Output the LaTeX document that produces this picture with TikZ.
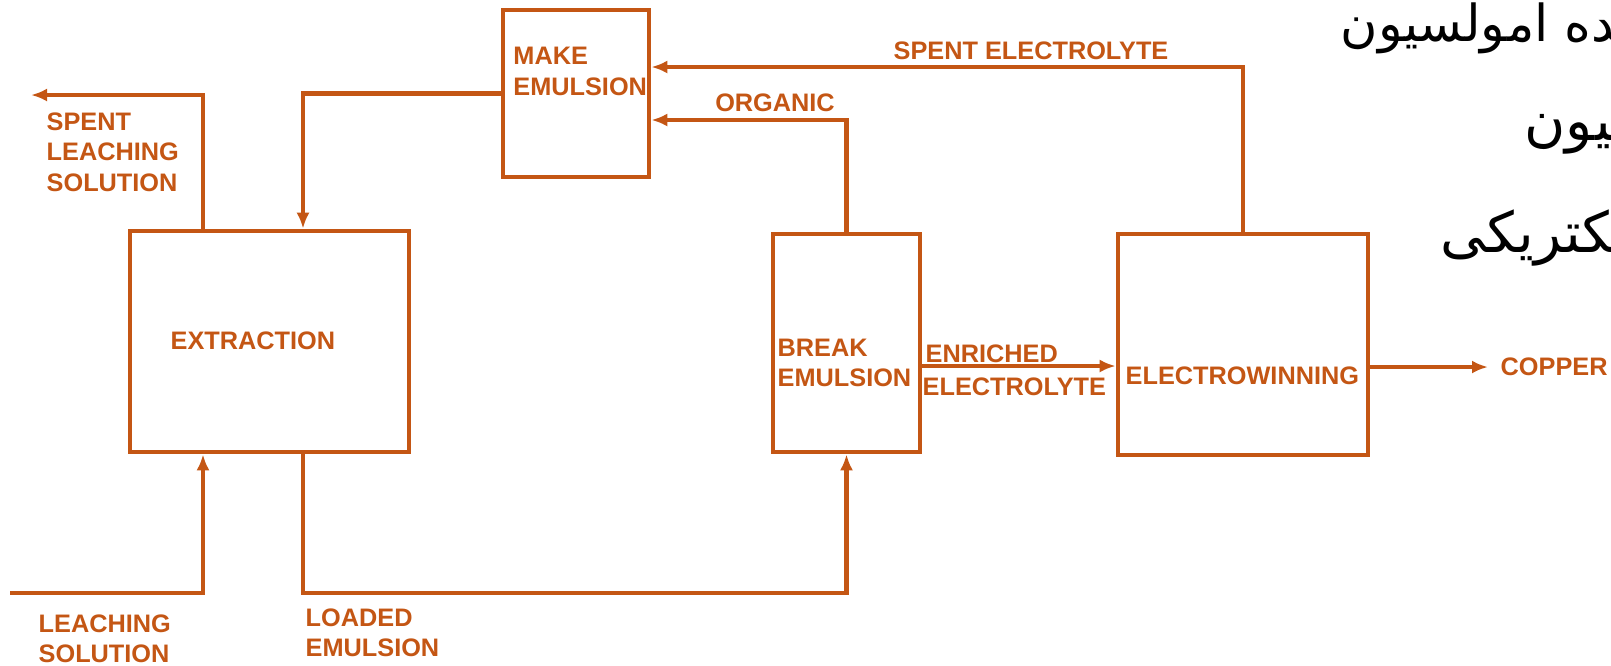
\documentclass[tikz,border=0pt]{standalone}
\usepackage{fontspec}
\setmainfont{Liberation Sans}
\newfontfamily\arabicfont[Script=Arabic]{DejaVu Sans}
\TeXXeTstate=1
\usepackage{xcolor}
\usetikzlibrary{arrows.meta,positioning}
\definecolor{rust}{RGB}{196,86,20}

\begin{document}
\begin{tikzpicture}[
    x=0.1mm, y=-0.1mm,
    block/.style={draw=rust, line width=1.3pt, inner sep=0pt},
    lbl/.style={text=rust, font=\bfseries\fontsize{7.2}{8.7}\selectfont, inner sep=0pt, align=left},
    pipe/.style={draw=rust, line width=1.3pt},
    arr/.style={pipe, -{Latex[length=1.6mm,width=1.3mm]}},
    fa/.style={font=\arabicfont\fontsize{16}{19}\selectfont, inner sep=0pt, anchor=base west}
  ]
    \useasboundingbox (0,0) rectangle (1611,665);

    % process units
    \node[block, minimum width=27.9mm, minimum height=22.1mm] (ext) at (269.5,341.5) {};
    \node[block, minimum width=14.6mm, minimum height=16.7mm] (mk) at (576,93.5) {};
    \node[block, minimum width=14.7mm, minimum height=21.8mm] (brk) at (846.5,343) {};
    \node[block, minimum width=25mm, minimum height=22.1mm] (ew) at (1243,344.5) {};

    \node[lbl, anchor=west] (exttxt) at (170,341) {EXTRACTION};
    \node[lbl, below right=3.9mm and 1.2mm of mk.north west] (mktxt) {MAKE\\EMULSION};
    \node[lbl, anchor=north west] (brktxt) at (777,338) {BREAK\\EMULSION};
    \node[lbl, anchor=west] (ewtxt) at (1125,376) {ELECTROWINNING};

    % pipe columns and loose ends
    \coordinate (xsl) at (203,0);
    \coordinate (xem) at (303,0);
    \coordinate (slout) at (31,95);
    \coordinate (lsin) at (10,593);
    \coordinate (loaded) at (303,593);
    \coordinate (cu) at (1488,367);
    \coordinate (enrout) at ([yshift=-2.3mm]brk.east);

    \draw[arr] (xsl |- ext.north) |- (slout);
    \draw[arr] (mk.west) -| (xem |- ext.north);
    \draw[arr] (lsin) -| (xsl |- ext.south);
    \draw[arr] (xem |- ext.south) -- (loaded) -| (brk.south);
    \draw[arr] (brk.north) |- ([yshift=-2.65mm]mk.east);
    \draw[arr] (ew.north) |- ([yshift=2.65mm]mk.east);
    \draw[arr] (enrout) -- (enrout -| ew.west);
    \draw[arr] (ew.east |- cu) -- (cu);

    % stream labels
    \node[lbl, anchor=north west] (slsol) at (46,112) {SPENT\\LEACHING\\SOLUTION};
    \node[lbl, anchor=north west] (lssol) at (38,614) {LEACHING\\SOLUTION};
    \node[lbl, anchor=north west] (ldem) at (305,608) {LOADED\\EMULSION};
    \node[lbl] (org) at (775,103) {ORGANIC};
    \node[lbl] (spel) at (1031,51) {SPENT ELECTROLYTE};
    \node[lbl, anchor=west] (enr) at (925,354) {ENRICHED};
    \node[lbl, anchor=west] (ely) at (922,387) {ELECTROLYTE};
    \node[lbl, anchor=west] (cutxt) at (1500,367) {COPPER};

    % persian notes, cut by the right edge
    \node[fa, font=\arabicfont\fontsize{14.5}{17}\selectfont] (fa1) at (1340,41) {\beginR سازنده امولسیون\endR};
    \node[fa] (fa2) at (1524,140) {\beginR امولسیون\endR};
    \node[fa] (fa3) at (1440,252) {\beginR الکتریکی\endR};
  \end{tikzpicture}
\end{document}
